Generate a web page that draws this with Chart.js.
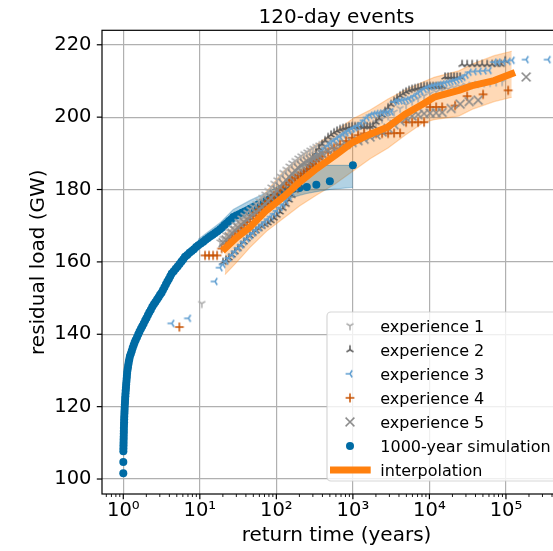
<!DOCTYPE html>
<html>
<head>
<meta charset="utf-8">
<script src="https://cdn.jsdelivr.net/npm/chart.js"></script>
<style>
  html, body { margin: 0; padding: 0; overflow: hidden; background: #fff; }
  canvas { display: block; }
</style>
</head>
<body>
<canvas id="chart" width="600" height="551"></canvas>
<script>
// 1000-year simulation
const simX = [1.000, 1.001, 1.002, 1.004, 1.006, 1.008, 1.010, 1.012, 1.014, 1.016, 1.018, 1.021, 1.024, 1.027, 1.030, 1.034, 1.038, 1.042, 1.047, 1.052, 1.057, 1.063, 1.069, 1.076, 1.083, 1.090, 1.098, 1.106, 1.114, 1.122, 1.135, 1.150, 1.165, 1.182, 1.200, 1.220, 1.255, 1.290, 1.325, 1.365, 1.405, 1.452, 1.51, 1.57, 1.63, 1.70, 1.77, 1.848, 1.93, 2.01, 2.10, 2.19, 2.29, 2.393, 2.51, 2.63, 2.76, 2.89, 3.02, 3.16, 3.30, 3.45, 3.61, 3.77, 3.94, 4.11, 4.29, 4.56, 4.84, 5.13, 5.44, 5.76, 6.08, 6.40, 6.85, 7.33, 7.84, 8.37, 8.94, 9.55, 10.3, 11.1, 11.9, 12.8, 13.7, 14.7, 15.8, 17.0, 18.4, 19.7, 21.0, 22.4, 24.0, 25.7, 27.4, 29.9, 32.6, 35.5, 38.6, 41.9, 45.3, 49.3, 53.6, 58.3, 63.5, 69.0, 74.8, 81.4, 88.4, 95.3, 103, 111.6, 121, 130, 141, 153, 166.8, 200, 250, 333, 500, 1000];
const simY = [101.6, 104.7, 107.7, 108.5, 109.3, 110.1, 110.9, 111.7, 112.5, 113.3, 114.1, 114.9, 115.7, 116.5, 117.3, 118.1, 118.9, 119.7, 120.5, 121.3, 122.1, 122.9, 123.7, 124.5, 125.3, 126.1, 126.9, 127.7, 128.5, 129.3, 130.1, 130.9, 131.7, 132.5, 133.2, 133.9, 134.6, 135.4, 136.2, 137.0, 137.7, 138.4, 139.2, 140.0, 140.8, 141.5, 142.2, 143.0, 143.8, 144.5, 145.3, 146.1, 146.8, 147.6, 148.3, 148.9, 149.6, 150.2, 150.9, 151.5, 152.2, 153.0, 153.8, 154.6, 155.3, 156.0, 156.8, 157.4, 158.1, 158.7, 159.4, 160.1, 160.7, 161.4, 161.9, 162.5, 163.0, 163.5, 164.1, 164.6, 165.1, 165.6, 166.1, 166.6, 167.1, 167.5, 168.0, 168.5, 169.0, 169.6, 170.2, 170.7, 171.3, 171.8, 172.4, 172.8, 173.2, 173.6, 173.9, 174.3, 174.7, 175.1, 175.5, 175.9, 176.2, 176.6, 177.0, 177.3, 177.7, 178.0, 178.4, 178.7, 179.0, 179.3, 179.6, 179.9, 180.2, 180.4, 180.7, 181.3, 182.3, 186.7];
const simBandX = [9.5, 18.4, 27.4, 45.3, 74.8, 111.6, 166.8, 200, 250, 333, 500, 1000];
const simBandLow = [163.6, 167.8, 170.8, 173.0, 175.2, 177.0, 177.8, 178.4, 178.9, 179.4, 180.0, 180.6];
const simBandHigh = [166.2, 170.8, 174.5, 177.0, 179.2, 181.2, 184.0, 186.7, 186.7, 186.7, 186.7, 186.7];

// interpolation and its band
const interpX = [21.3, 30.6, 45.3, 74.8, 123, 203, 336, 585, 985, 1680, 2880, 4810, 8370, 11500, 24200, 37600, 70100, 119000];
const interpY = [163.7, 166.8, 169.6, 174.3, 177.9, 182.1, 185.8, 189.4, 193.0, 195.3, 197.3, 200.8, 203.7, 205.5, 207.4, 208.8, 210.1, 212.0];
const interpLow = [156.5, 160.0, 164.0, 168.5, 172.0, 175.5, 178.5, 181.5, 185.0, 188.5, 191.5, 195.0, 198.5, 199.3, 200.3, 202.3, 204.3, 205.5];
const interpHigh = [167.5, 170.5, 174.5, 179.5, 185.0, 189.0, 192.5, 196.0, 199.5, 202.0, 205.0, 207.5, 209.8, 211.0, 212.8, 214.8, 217.0, 218.2];

// experiences
const exp1X = [10.6, 18.4, 20.1, 22.0, 24.1, 26.4, 28.8, 31.6, 34.6, 37.8, 41.4, 45.3, 49.6, 54.3, 59.4, 65.0, 71.2, 77.9, 85.2, 93.3, 102, 112, 122, 134, 147, 160, 176, 192, 210, 230, 252, 276, 302, 330, 362, 396, 474, 568, 680, 815, 976, 1170, 1401, 1678, 2010, 2408, 2885, 3456, 4140, 4960, 5942, 7118, 8527, 10210, 12240, 14660, 17560, 21030, 25200, 30180, 36160, 43320, 51880, 62160, 74460, 89190];
const exp1Y = [148.5, 165.5, 166.5, 167.4, 168.4, 169.4, 170.3, 171.2, 172.1, 172.9, 173.7, 174.5, 175.3, 176.1, 176.9, 177.8, 178.7, 179.7, 180.7, 181.7, 182.7, 183.7, 184.7, 185.6, 186.5, 187.3, 188.0, 188.7, 189.3, 189.9, 190.4, 190.9, 191.4, 191.9, 192.3, 192.7, 193.2, 193.8, 194.5, 195.2, 195.8, 196.4, 197.1, 197.8, 198.6, 199.5, 200.4, 201.4, 202.4, 203.4, 204.4, 205.2, 205.9, 206.5, 207.0, 207.4, 207.8, 208.2, 208.5, 208.8, 209.1, 209.3, 209.5, 209.6, 209.7, 209.8];

const exp2X = [20.1, 22.0, 24.1, 26.4, 28.8, 31.6, 34.6, 37.8, 41.4, 45.3, 49.6, 54.3, 59.4, 65.0, 71.2, 77.9, 85.2, 93.3, 102, 112, 122, 134, 147, 160, 176, 192, 210, 230, 252, 276, 302, 330, 362, 396, 433, 474, 519, 568, 622, 680, 745, 815, 892, 976, 1068, 1170, 1280, 1401, 1533, 1678, 1837, 2010, 2200, 2408, 2636, 2885, 3158, 3456, 3783, 4140, 4532, 4960, 5428, 5942, 6503, 7118, 7791, 8527, 9332, 10210, 11180, 12240, 13390, 14660, 16040, 17560, 19220, 21030, 23020, 25200, 26750, 31100, 36160, 42030, 48860, 56790, 66010, 76740, 86540, 97610];
const exp2Y = [159.9, 160.5, 161.1, 161.9, 162.8, 163.7, 164.6, 165.5, 166.4, 167.2, 167.9, 168.6, 169.2, 169.8, 170.3, 170.8, 171.4, 172.1, 172.9, 173.8, 174.8, 175.9, 177.1, 178.4, 179.8, 181.2, 182.7, 184.2, 185.7, 187.2, 188.7, 190.1, 191.4, 192.5, 193.5, 194.4, 195.1, 195.7, 196.2, 196.6, 196.9, 197.1, 197.3, 197.4, 197.4, 197.4, 197.4, 197.4, 197.4, 197.4, 197.6, 198.6, 199.6, 200.6, 201.6, 202.6, 203.5, 204.4, 205.2, 205.9, 206.5, 207.0, 207.4, 207.7, 207.9, 208.1, 208.3, 208.5, 208.5, 208.5, 208.5, 208.5, 208.5, 208.5, 211.1, 211.1, 211.1, 211.1, 211.1, 211.1, 214.6, 214.6, 214.6, 214.6, 214.6, 214.6, 214.6, 214.6, 214.6, 215.6];

const exp3X = [4.3, 7.1, 15.8, 18.4, 20.1, 22.0, 24.1, 26.4, 28.8, 31.6, 34.6, 37.8, 41.4, 45.3, 49.6, 54.3, 59.4, 65.0, 71.2, 77.9, 85.2, 93.3, 102, 112, 122, 134, 147, 160, 176, 192, 210, 230, 252, 276, 302, 330, 362, 396, 433, 474, 519, 568, 622, 680, 745, 815, 892, 976, 1068, 1170, 1280, 1401, 1533, 1678, 1837, 2010, 2200, 2408, 2636, 2885, 3158, 3456, 3783, 4140, 4532, 4960, 5428, 5942, 6503, 7118, 7791, 8527, 9332, 10210, 11180, 12240, 13390, 14660, 16040, 17560, 19220, 21030, 23020, 25200, 27570, 30180, 33040, 38410, 44650, 51880, 60310, 70110, 79080, 91920, 106850, 120530, 183700, 356200];
const exp3Y = [143.0, 144.4, 154.6, 158.4, 159.3, 160.2, 161.1, 162.0, 162.9, 163.8, 164.7, 165.6, 166.4, 167.2, 168.0, 168.8, 169.5, 170.3, 171.0, 171.8, 172.5, 173.3, 174.1, 175.0, 175.9, 176.9, 178.0, 179.2, 180.5, 181.8, 183.1, 184.4, 185.6, 186.8, 187.9, 188.9, 189.8, 190.6, 191.4, 192.1, 192.8, 193.4, 194.0, 194.6, 195.2, 195.7, 196.2, 196.7, 197.1, 197.6, 198.3, 199.1, 199.9, 200.5, 200.8, 201.0, 201.1, 201.2, 201.3, 201.4, 201.5, 204.2, 204.4, 204.5, 204.6, 204.8, 205.0, 205.4, 205.9, 206.5, 207.1, 207.7, 208.1, 208.4, 208.6, 208.8, 209.0, 209.2, 209.4, 209.6, 209.8, 210.0, 210.3, 210.6, 211.0, 211.6, 212.4, 212.6, 212.7, 212.8, 212.9, 215.2, 215.2, 215.3, 215.4, 215.7, 215.9, 215.9];

const exp4X = [5.4, 11.7, 13.2, 14.9, 16.8, 19.3, 22.0, 24.1, 26.4, 28.8, 31.6, 34.6, 37.8, 41.4, 45.3, 49.6, 54.3, 59.4, 65.0, 71.2, 77.9, 85.2, 93.3, 102, 112, 122, 134, 147, 160, 176, 192, 210, 230, 252, 276, 302, 330, 362, 396, 474, 568, 680, 815, 976, 1170, 1401, 1678, 2010, 2408, 2885, 3456, 4140, 4960, 5942, 7118, 8527, 10210, 12240, 14660, 21670, 31100, 50300, 106850];
const exp4Y = [142.0, 161.8, 161.8, 161.8, 161.8, 163.7, 164.9, 165.8, 166.7, 167.6, 168.5, 169.4, 170.2, 171.0, 171.9, 172.7, 173.5, 174.3, 175.1, 175.9, 176.7, 177.5, 178.3, 179.1, 179.9, 180.6, 181.3, 182.0, 182.6, 183.2, 183.8, 184.4, 185.0, 185.7, 186.4, 187.1, 187.8, 188.5, 189.1, 190.3, 191.4, 192.4, 193.4, 194.3, 195.0, 195.5, 195.5, 195.5, 195.5, 195.5, 195.6, 195.6, 198.6, 198.6, 198.6, 198.6, 202.8, 202.8, 202.8, 203.2, 205.8, 206.3, 207.4];

const exp5X = [20.1, 22.0, 24.1, 26.4, 28.8, 31.6, 34.6, 37.8, 41.4, 45.3, 49.6, 54.3, 59.4, 65.0, 71.2, 77.9, 85.2, 93.3, 102, 112, 122, 134, 147, 160, 176, 192, 210, 230, 252, 276, 302, 330, 362, 396, 474, 568, 680, 815, 976, 1170, 1401, 1678, 2010, 2408, 2885, 3456, 4140, 4960, 5942, 7118, 8527, 10210, 12240, 14660, 19220, 25200, 33040, 43320, 183700];
const exp5Y = [165.3, 166.1, 167.0, 167.9, 168.7, 169.5, 170.3, 171.0, 171.7, 172.4, 173.1, 173.8, 174.5, 175.2, 176.0, 176.8, 177.7, 178.7, 179.7, 180.7, 181.7, 182.6, 183.5, 184.4, 185.2, 186.0, 186.7, 187.3, 187.8, 188.3, 188.7, 189.1, 189.5, 189.9, 190.6, 191.3, 191.9, 192.5, 193.0, 193.5, 193.9, 194.5, 195.1, 195.9, 196.9, 197.9, 198.9, 199.7, 200.3, 200.7, 201.0, 201.1, 201.2, 201.3, 202.4, 203.6, 204.3, 204.7, 211.1];

const yTicks = [100, 120, 140, 160, 180, 200, 220];
const supDigits = ['⁰', '¹', '²', '³', '⁴', '⁵', '⁶'];

const FONT = 'DejaVu Sans';
const colors = {
    exp1: '#ABABAB', exp2: '#595959', exp3: '#5F9ED1', exp4: '#C85200', exp5: '#898989',
    sim: '#006BA4', interp: '#FF800E'
};

function pts(xs, ys) {
    return xs.map((x, i) => ({x: x, y: ys[i]}));
}

function isPow10(v) {
    const e = Math.round(Math.log10(v));
    return Math.abs(v / Math.pow(10, e) - 1) < 1e-9;
}

// matplotlib-like line markers drawn once on small canvases
function makeMarker(kind, color) {
    const c = document.createElement('canvas');
    c.width = 14;
    c.height = 14;
    const g = c.getContext('2d');
    const r = 4.4, m = 7;
    const arms = {
        tri_down: [[0, 1], [-0.8, -0.5], [0.8, -0.5]],
        tri_up: [[0, -1], [-0.8, 0.5], [0.8, 0.5]],
        tri_left: [[-1, 0], [0.5, -0.8], [0.5, 0.8]],
        plus: [[1, 0], [-1, 0], [0, 1], [0, -1]],
        cross: [[1, 1], [-1, -1], [1, -1], [-1, 1]]
    }[kind];
    g.strokeStyle = color;
    g.lineWidth = 1.5;
    g.beginPath();
    arms.forEach(a => {
        g.moveTo(m, m);
        g.lineTo(m + a[0] * r, m + a[1] * r);
    });
    g.stroke();
    return c;
}

const markers = {
    exp1: makeMarker('tri_down', colors.exp1),
    exp2: makeMarker('tri_up', colors.exp2),
    exp3: makeMarker('tri_left', colors.exp3),
    exp4: makeMarker('plus', colors.exp4),
    exp5: makeMarker('cross', colors.exp5)
};

function scatterSet(label, xs, ys, key, order) {
    return {
        type: 'scatter', label: label, data: pts(xs, ys),
        pointStyle: markers[key], pointRadius: 4, showLine: false, order: order
    };
}

const frameAndTicks = {
    id: 'frameAndTicks',
    afterDatasetsDraw(chart) {
        const {ctx, chartArea: a, scales} = chart;
        ctx.save();
        ctx.strokeStyle = '#000';
        ctx.lineWidth = 1.2;
        ctx.strokeRect(a.left, a.top, a.right - a.left, a.bottom - a.top);
        scales.x.ticks.forEach(t => {
            const px = scales.x.getPixelForValue(t.value);
            const major = isPow10(t.value);
            ctx.lineWidth = major ? 1.2 : 0.9;
            ctx.beginPath();
            ctx.moveTo(px, a.bottom);
            ctx.lineTo(px, a.bottom + (major ? 5.2 : 3));
            ctx.stroke();
        });
        ctx.lineWidth = 1.2;
        scales.y.ticks.forEach(t => {
            const py = scales.y.getPixelForValue(t.value);
            ctx.beginPath();
            ctx.moveTo(a.left, py);
            ctx.lineTo(a.left - 5.2, py);
            ctx.stroke();
        });
        ctx.restore();
    }
};

const titleAndLegend = {
    id: 'titleAndLegend',
    afterDraw(chart) {
        const {ctx, chartArea: a} = chart;
        ctx.save();
        ctx.fillStyle = '#000';
        ctx.font = '20px "' + FONT + '"';
        ctx.textAlign = 'center';
        ctx.textBaseline = 'alphabetic';
        ctx.fillText('120-day events', (a.left + a.right) / 2, 23.3);

        const x0 = a.right - 244, y0 = a.bottom - 182, x1 = a.right - 8, y1 = a.bottom - 13, r = 4;
        ctx.beginPath();
        ctx.moveTo(x0 + r, y0);
        ctx.arcTo(x1, y0, x1, y1, r);
        ctx.arcTo(x1, y1, x0, y1, r);
        ctx.arcTo(x0, y1, x0, y0, r);
        ctx.arcTo(x0, y0, x1, y0, r);
        ctx.closePath();
        ctx.fillStyle = 'rgba(255,255,255,0.8)';
        ctx.fill();
        ctx.strokeStyle = 'rgba(204,204,204,0.8)';
        ctx.lineWidth = 1.2;
        ctx.stroke();

        const items = [
            {label: 'experience 1', img: markers.exp1},
            {label: 'experience 2', img: markers.exp2},
            {label: 'experience 3', img: markers.exp3},
            {label: 'experience 4', img: markers.exp4},
            {label: 'experience 5', img: markers.exp5},
            {label: '1000-year simulation', dot: colors.sim},
            {label: 'interpolation', line: colors.interp}
        ];
        const mx = x0 + 23, tx = x0 + 53.3;
        ctx.font = '16px "' + FONT + '"';
        ctx.textAlign = 'left';
        items.forEach((it, i) => {
            const cy = y0 + 13.7 + i * 24.05;
            if (it.img) {
                ctx.drawImage(it.img, mx - it.img.width / 2, cy - it.img.height / 2);
            } else if (it.dot) {
                ctx.fillStyle = it.dot;
                ctx.beginPath();
                ctx.arc(mx, cy, 4, 0, Math.PI * 2);
                ctx.fill();
            } else {
                ctx.strokeStyle = it.line;
                ctx.lineWidth = 7;
                ctx.beginPath();
                ctx.moveTo(x0 + 3, cy);
                ctx.lineTo(x0 + 43.7, cy);
                ctx.stroke();
            }
            ctx.fillStyle = '#000';
            ctx.fillText(it.label, tx, cy + 6);
        });
        ctx.restore();
    }
};

const ctx = document.getElementById('chart').getContext('2d');
new Chart(ctx, {
    type: 'scatter',
    data: {
        datasets: [
            {type: 'line', label: 'band low', data: pts(interpX, interpLow), borderColor: 'rgba(255,128,14,0.3)',
                borderWidth: 1.2, pointRadius: 0, fill: false, order: 10},
            {type: 'line', label: 'band high', data: pts(interpX, interpHigh), borderColor: 'rgba(255,128,14,0.3)',
                borderWidth: 1.2, pointRadius: 0, fill: '-1', backgroundColor: 'rgba(255,128,14,0.3)', order: 10},
            {type: 'line', label: 'sim low', data: pts(simBandX, simBandLow), borderColor: 'rgba(0,107,164,0.3)',
                borderWidth: 1.2, pointRadius: 0, fill: false, order: 9},
            {type: 'line', label: 'sim high', data: pts(simBandX, simBandHigh), borderColor: 'rgba(0,107,164,0.3)',
                borderWidth: 1.2, pointRadius: 0, fill: '-1', backgroundColor: 'rgba(0,107,164,0.3)', order: 9},
            {type: 'scatter', label: '1000-year simulation', data: pts(simX, simY), pointStyle: 'circle',
                pointRadius: 4, pointBorderWidth: 0, backgroundColor: colors.sim, borderColor: colors.sim, order: 8},
            scatterSet('experience 1', exp1X, exp1Y, 'exp1', 7),
            scatterSet('experience 2', exp2X, exp2Y, 'exp2', 6),
            scatterSet('experience 3', exp3X, exp3Y, 'exp3', 5),
            scatterSet('experience 4', exp4X, exp4Y, 'exp4', 4),
            scatterSet('experience 5', exp5X, exp5Y, 'exp5', 3),
            {type: 'line', label: 'interpolation', data: pts(interpX, interpY), borderColor: colors.interp,
                borderWidth: 7, borderCapStyle: 'square', borderJoinStyle: 'round', pointRadius: 0, fill: false, order: 1}
        ]
    },
    options: {
        responsive: false,
        animation: false,
        layout: {padding: {left: 0, right: 29, top: 30.3, bottom: 0}},
        plugins: {
            legend: {display: false},
            tooltip: {enabled: false},
            title: {display: false}
        },
        scales: {
            x: {
                type: 'logarithmic',
                min: 0.527,
                max: 708000,
                afterBuildTicks: s => {
                    const t = [];
                    for (let e = -1; e <= 5; e++) {
                        for (let m = 1; m <= 9; m++) {
                            const v = m * Math.pow(10, e);
                            if (v >= s.min && v <= s.max) t.push({value: v});
                        }
                    }
                    s.ticks = t;
                },
                afterFit: s => { s.height = 57; },
                grid: {
                    color: c => (c.tick && isPow10(c.tick.value)) ? '#b0b0b0' : 'rgba(0,0,0,0)',
                    lineWidth: 1.2,
                    drawTicks: false
                },
                border: {display: false},
                ticks: {
                    autoSkip: false,
                    maxRotation: 0,
                    minRotation: 0,
                    padding: 5.5,
                    color: '#000',
                    font: {family: FONT, size: 19.5},
                    callback: v => isPow10(v) ? '10' + supDigits[Math.round(Math.log10(v))] : ''
                },
                title: {
                    display: true,
                    text: 'return time (years)',
                    color: '#000',
                    font: {family: FONT, size: 20},
                    padding: {top: 0, bottom: 2.9}
                }
            },
            y: {
                min: 95.86,
                max: 224.0,
                afterBuildTicks: s => { s.ticks = yTicks.map(v => ({value: v})); },
                afterFit: s => { s.width = 102; },
                grid: {color: '#b0b0b0', lineWidth: 1.2, drawTicks: false},
                border: {display: false},
                ticks: {
                    padding: 10.5,
                    color: '#000',
                    font: {family: FONT, size: 19.5}
                },
                title: {
                    display: true,
                    text: 'residual load (GW)',
                    color: '#000',
                    font: {family: FONT, size: 20},
                    padding: {top: 26.6, bottom: 0}
                }
            }
        }
    },
    plugins: [frameAndTicks, titleAndLegend]
});
</script>
</body>
</html>
